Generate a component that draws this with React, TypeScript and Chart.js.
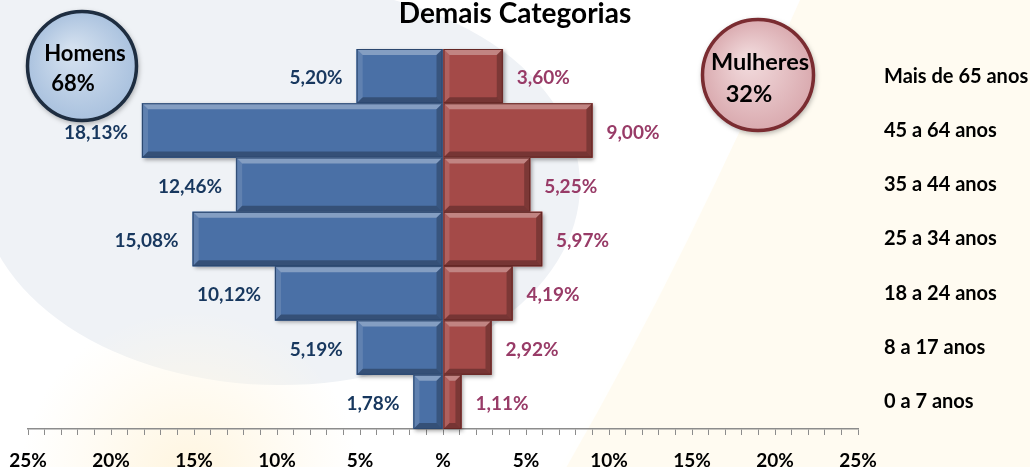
import React, { useEffect, useRef } from 'react';
import { Chart, registerables } from 'chart.js';

Chart.register(...registerables);

const chartTitle = 'Demais Categorias';
const categories = [
  'Mais de 65 anos',
  '45 a 64 anos',
  '35 a 44 anos',
  '25 a 34 anos',
  '18 a 24 anos',
  '8 a 17 anos',
  '0 a 7 anos',
];
const homens = [5.2, 18.13, 12.46, 15.08, 10.12, 5.19, 1.78];
const mulheres = [3.6, 9.0, 5.25, 5.97, 4.19, 2.92, 1.11];
const xTickValues = [-25, -20, -15, -10, -5, 0, 5, 10, 15, 20, 25];
const xTickLabels = ['25%', '20%', '15%', '10%', '5%', '%', '5%', '10%', '15%', '20%', '25%'];
const totalLabels = ['Homens', 'Mulheres'];
const totalValues = ['68%', '32%'];

const fmt = (v: number) => v.toFixed(2).replace('.', ',') + '%';

function barRect(el: any) {
  const p = el.getProps(['x', 'y', 'base', 'height'], true);
  const L = Math.min(p.x, p.base);
  const R = Math.max(p.x, p.base);
  const T = p.y - p.height / 2;
  const B = p.y + p.height / 2;
  return { L, R, T, B, y: p.y };
}

const backgroundPlugin = {
  id: 'bgPlugin',
  beforeDraw(chart: any) {
    const { ctx, width: W, height: H } = chart;
    ctx.save();
    ctx.fillStyle = '#FFFFFF';
    ctx.fillRect(0, 0, W, H);
    // pale blue blob left
    ctx.fillStyle = '#EFF2F6';
    ctx.beginPath();
    ctx.ellipse(280, 185, 300, 200, 0, 0, Math.PI * 2);
    ctx.fill();
    ctx.beginPath();
    ctx.moveTo(0, 0);
    ctx.lineTo(240, 0);
    ctx.lineTo(120, 60);
    ctx.lineTo(0, 200);
    ctx.closePath();
    ctx.fill();
    // cream region right
    ctx.fillStyle = '#FFFBF1';
    ctx.beginPath();
    ctx.moveTo(800, 0);
    ctx.quadraticCurveTo(690, 250, 560, H);
    ctx.lineTo(W, H);
    ctx.lineTo(W, 0);
    ctx.closePath();
    ctx.fill();
    // white band
    ctx.strokeStyle = 'rgba(255,255,255,0.9)';
    ctx.lineWidth = 22;
    ctx.beginPath();
    ctx.moveTo(790, -10);
    ctx.quadraticCurveTo(680, 250, 548, H + 10);
    ctx.stroke();
    // cream bottom-left
    const g2 = ctx.createRadialGradient(190, 480, 20, 190, 480, 170);
    g2.addColorStop(0, 'rgba(255,246,226,1)');
    g2.addColorStop(1, 'rgba(255,248,232,0)');
    ctx.fillStyle = g2;
    ctx.fillRect(0, 300, 420, H - 300);
    ctx.restore();
  },
  beforeDatasetsDraw(chart: any) {
    const ctx = chart.ctx;
    ctx.save();
    ctx.shadowColor = 'rgba(0,0,0,0.35)';
    ctx.shadowBlur = 4;
    ctx.shadowOffsetX = 2;
    ctx.shadowOffsetY = 2;
    chart.data.datasets.forEach((ds: any, di: number) => {
      const meta = chart.getDatasetMeta(di);
      meta.data.forEach((el: any) => {
        const r = barRect(el);
        ctx.fillStyle = ds.backgroundColor;
        ctx.fillRect(r.L, r.T, r.R - r.L, r.B - r.T);
      });
    });
    ctx.restore();
  },
  afterDatasetsDraw(chart: any) {
    const ctx = chart.ctx;
    chart.data.datasets.forEach((ds: any, di: number) => {
      const meta = chart.getDatasetMeta(di);
      meta.data.forEach((el: any, i: number) => {
        const { L, R, T, B, y } = barRect(el);
        const b = Math.min(6, (R - L) / 2, (B - T) / 2);
        ctx.save();
        const poly = (pts: number[][], c: string) => {
          ctx.fillStyle = c;
          ctx.beginPath();
          ctx.moveTo(pts[0][0], pts[0][1]);
          for (let k = 1; k < pts.length; k++) ctx.lineTo(pts[k][0], pts[k][1]);
          ctx.closePath();
          ctx.fill();
        };
        poly([[L, T], [R, T], [R - b, T + b], [L + b, T + b]], 'rgba(255,255,255,0.32)');
        poly([[L, T], [L + b, T + b], [L + b, B - b], [L, B]], 'rgba(255,255,255,0.12)');
        poly([[L, B], [L + b, B - b], [R - b, B - b], [R, B]], 'rgba(0,0,0,0.28)');
        poly([[R, T], [R, B], [R - b, B - b], [R - b, T + b]], 'rgba(0,0,0,0.24)');
        ctx.strokeStyle = di === 0 ? '#2B476F' : '#642624';
        ctx.lineWidth = 1;
        ctx.strokeRect(L + 0.5, T + 0.5, R - L - 1, B - T - 1);

        const v = Math.abs(ds.data[i]);
        ctx.font = 'bold 19px Lato';
        ctx.textBaseline = 'middle';
        if (di === 0) {
          ctx.fillStyle = '#17375E';
          ctx.textAlign = 'right';
          ctx.fillText(fmt(v), L - 14, y + 2);
        } else {
          ctx.fillStyle = '#983B67';
          ctx.textAlign = 'left';
          ctx.fillText(fmt(v), R + 14, y + 2);
        }
        ctx.restore();
      });
    });
  },
  afterDraw(chart: any) {
    const ctx = chart.ctx;
    ctx.save();
    // title
    ctx.font = 'bold 28px Lato';
    ctx.fillStyle = '#000';
    ctx.textAlign = 'center';
    ctx.textBaseline = 'alphabetic';
    ctx.fillText(chartTitle, 515, 23);

    const circles = [
      { cx: 82, cy: 66, r: 56, fs: 22, inner: '#D3E0EF', outer: '#A9C1DE', border: '#1E2D40', tx: [85, 73], ty: [54, 84] },
      { cx: 758, cy: 75, r: 57, fs: 23.5, inner: '#F1D9DB', outer: '#D9A9AE', border: '#7A2C31', tx: [760, 749], ty: [62, 94] },
    ];
    circles.forEach((c, i) => {
      ctx.save();
      ctx.shadowColor = 'rgba(0,0,0,0.3)';
      ctx.shadowBlur = 5;
      ctx.shadowOffsetX = 1;
      ctx.shadowOffsetY = 2;
      const g = ctx.createRadialGradient(c.cx - 10, c.cy - 15, 5, c.cx, c.cy, c.r);
      g.addColorStop(0, c.inner);
      g.addColorStop(1, c.outer);
      ctx.fillStyle = g;
      ctx.beginPath();
      ctx.arc(c.cx, c.cy, c.r, 0, Math.PI * 2);
      ctx.fill();
      ctx.restore();
      ctx.lineWidth = 3.5;
      ctx.strokeStyle = c.border;
      ctx.beginPath();
      ctx.arc(c.cx, c.cy, c.r - 1.5, 0, Math.PI * 2);
      ctx.stroke();
      ctx.font = `bold ${c.fs}px Lato`;
      ctx.fillStyle = '#000';
      ctx.textAlign = 'center';
      ctx.textBaseline = 'middle';
      ctx.fillText(totalLabels[i], c.tx[0], c.ty[0]);
      ctx.fillText(totalValues[i], c.tx[1], c.ty[1]);
    });
    ctx.restore();
  },
};

export default function App() {
  const ref = useRef<HTMLCanvasElement | null>(null);
  useEffect(() => {
    if (!ref.current) return;
    const chart = new Chart(ref.current, {
      type: 'bar',
      data: {
        labels: categories,
        datasets: [
          {
            label: 'Homens',
            data: homens.map((v) => -v),
            backgroundColor: '#4A70A6',
            borderWidth: 0,
            barPercentage: 1,
            categoryPercentage: 1,
          },
          {
            label: 'Mulheres',
            data: mulheres,
            backgroundColor: '#A44A48',
            borderWidth: 0,
            barPercentage: 1,
            categoryPercentage: 1,
          },
        ],
      },
      options: {
        indexAxis: 'y',
        animation: false,
        responsive: false,
        devicePixelRatio: 1,
        layout: { padding: { top: 49, left: 28, right: 0, bottom: 0 } },
        plugins: {
          legend: { display: false },
          title: { display: false },
          tooltip: { enabled: false },
        },
        scales: {
          x: {
            stacked: true,
            min: -25,
            max: 25,
            afterFit: (s: any) => {
              s.height = 38;
              s.paddingLeft = 0;
              s.paddingRight = 0;
            },
            grid: {
              display: true,
              drawOnChartArea: false,
              drawTicks: true,
              tickLength: 6,
              tickColor: '#8C8C8C',
              tickWidth: 1,
            },
            border: { display: true, color: '#8C8C8C', width: 1.5 },
            ticks: {
              stepSize: 1,
              autoSkip: false,
              maxRotation: 0,
              padding: 14,
              color: '#000',
              font: { family: 'Lato', weight: 'bold', size: 19 },
              callback: (v: any) => {
                const idx = xTickValues.indexOf(Number(v));
                return idx >= 0 ? xTickLabels[idx] : '';
              },
            },
          },
          y: {
            stacked: true,
            position: 'right',
            afterFit: (s: any) => {
              s.width = 172;
            },
            grid: { display: false, drawTicks: false },
            border: { display: false },
            ticks: {
              padding: 26,
              crossAlign: 'near',
              color: '#000',
              font: { family: 'Lato', weight: 'bold', size: 20 },
            },
          },
        },
      },
      plugins: [backgroundPlugin],
    } as any);
    return () => chart.destroy();
  }, []);
  return (
    <div style={{ position: 'fixed', left: 0, top: 0, width: 1030, height: 467 }}>
      <canvas ref={ref} width={1030} height={467} style={{ width: 1030, height: 467, display: 'block' }} />
    </div>
  );
}
